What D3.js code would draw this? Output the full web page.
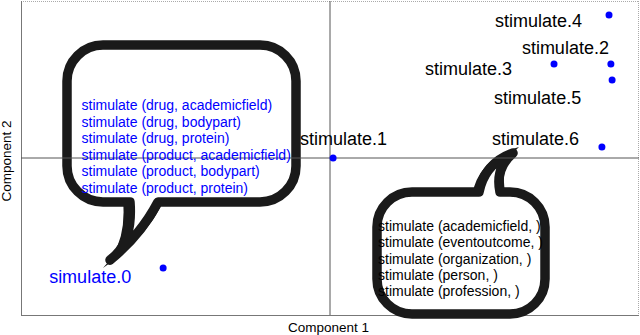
<!DOCTYPE html>
<html>
<head>
<meta charset="utf-8">
<script src="https://cdn.jsdelivr.net/npm/d3@7/dist/d3.min.js"></script>
<style>
  html, body { margin: 0; padding: 0; background: #fff; }
  svg { display: block; font-family: "Liberation Sans", Arial, sans-serif; }
</style>
</head>
<body>
<svg id="chart" width="640" height="335"></svg>
<script>
// ---- data ----
const pointNames = ["simulate.0", "stimulate.1", "stimulate.2", "stimulate.3", "stimulate.4", "stimulate.5", "stimulate.6"];
const comp1 = [-0.540, 0.010, 0.909, 0.725, 0.903, 0.913, 0.880];
const comp2 = [-0.701, 0.000, 0.599, 0.599, 0.911, 0.497, 0.070];
const labelColors = ["#0000ff", "#000", "#000", "#000", "#000", "#000", "#000"];
const bubbleLeftLines = [
  "stimulate (drug, academicfield)",
  "stimulate (drug, bodypart)",
  "stimulate (drug, protein)",
  "stimulate (product, academicfield)",
  "stimulate (product, bodypart)",
  "stimulate (product, protein)"
];
const bubbleRightLines = [
  "stimulate (academicfield, )",
  "stimulate (eventoutcome, )",
  "stimulate (organization, )",
  "stimulate (person, )",
  "stimulate (profession, )"
];
const xTitle = "Component 1";
const yTitle = "Component 2";

// ---- layout ----
const plot = { left: 21, right: 639, top: 1, bottom: 315 };
const labelOffsets = [[-114, 15], [-33, -13], [-89, -10], [-129, 11], [-114, 12], [-118, 24], [-110, -2]];

const svg = d3.select("#chart");
const x = d3.scaleLinear().domain([-1, 1]).range([plot.left, plot.right]);
const y = d3.scaleLinear().domain([-1, 1]).range([plot.bottom, plot.top]);

// frame
svg.append("line").attr("x1", plot.left).attr("x2", plot.right).attr("y1", plot.top + 0.5).attr("y2", plot.top + 0.5)
  .attr("stroke", "#aaa").attr("stroke-dasharray", "1,1");
svg.append("line").attr("x1", plot.right - 0.5).attr("x2", plot.right - 0.5).attr("y1", plot.top).attr("y2", plot.bottom)
  .attr("stroke", "#aaa").attr("stroke-dasharray", "1,1");
svg.append("line").attr("x1", plot.left + 0.5).attr("x2", plot.left + 0.5).attr("y1", plot.top).attr("y2", plot.bottom)
  .attr("stroke", "#777");
svg.append("line").attr("x1", plot.left).attr("x2", plot.right).attr("y1", plot.bottom + 0.5).attr("y2", plot.bottom + 0.5)
  .attr("stroke", "#777");

// speech bubbles (annotation shapes)
function bubblePath(b) {
  const { x0, x1, y0, y1, r } = b;
  let p = `M${x0 + r},${y0}`;
  if (b.tailSide === "top") {
    const t = b.tail;
    p += `H${t.a[0]}Q${t.c1[0]},${t.c1[1]} ${t.tip[0]},${t.tip[1]}Q${t.c2[0]},${t.c2[1]} ${t.b[0]},${t.b[1]}`;
  }
  p += `H${x1 - r}A${r},${r} 0 0 1 ${x1},${y0 + r}V${y1 - r}A${r},${r} 0 0 1 ${x1 - r},${y1}`;
  if (b.tailSide === "bottom") {
    const t = b.tail;
    p += `H${t.a[0]}Q${t.c1[0]},${t.c1[1]} ${t.tip[0]},${t.tip[1]}Q${t.c2[0]},${t.c2[1]} ${t.b[0]},${t.b[1]}`;
  }
  p += `H${x0 + r}A${r},${r} 0 0 1 ${x0},${y1 - r}V${y0 + r}A${r},${r} 0 0 1 ${x0 + r},${y0}Z`;
  return p;
}
function silhouettePath(s) {
  return `M${s.a[0]},${s.a[1]}Q${s.c1[0]},${s.c1[1]} ${s.tip[0]},${s.tip[1]}Q${s.c2[0]},${s.c2[1]} ${s.b[0]},${s.b[1]}Z`;
}
const bubbles = [
  { x0: 67, x1: 296, y0: 45, y1: 202, r: 36, tailSide: "bottom",
    tail: { a: [158, 202], c1: [140, 236], tip: [110, 260], c2: [133, 244], b: [130, 202] },
    sil: { a: [123, 200], c1: [127, 244], tip: [103, 268], c2: [147, 238], b: [164, 200] } },
  { x0: 377, x1: 545, y0: 192, y1: 314, r: 35, tailSide: "top",
    tail: { a: [479, 192], c1: [485, 163], tip: [513, 153], c2: [495, 168], b: [500, 192] },
    sil: { a: [472, 195], c1: [479, 158], tip: [519, 147], c2: [498, 166], b: [506, 195] } }
];
svg.selectAll("path.sil").data(bubbles).join("path")
  .attr("class", "sil")
  .attr("d", d => silhouettePath(d.sil))
  .attr("fill", "#1a1a1a");
svg.selectAll("path.bubble").data(bubbles).join("path")
  .attr("class", "bubble")
  .attr("d", bubblePath)
  .attr("fill", "#fff")
  .attr("stroke", "#1a1a1a")
  .attr("stroke-width", 9.5)
  .attr("stroke-linejoin", "round");

// zero lines
svg.append("line").attr("x1", x(0)).attr("x2", x(0)).attr("y1", plot.top).attr("y2", plot.bottom)
  .attr("stroke", "#555").attr("stroke-width", 1);
svg.append("line").attr("x1", plot.left).attr("x2", plot.right).attr("y1", y(0)).attr("y2", y(0))
  .attr("stroke", "#555").attr("stroke-width", 1);

// points
const pts = pointNames.map((n, i) => ({ name: n, cx: comp1[i], cy: comp2[i], color: labelColors[i], off: labelOffsets[i] }));
svg.selectAll("circle.pt").data(pts).join("circle")
  .attr("class", "pt")
  .attr("cx", d => x(d.cx)).attr("cy", d => y(d.cy)).attr("r", 3.5)
  .attr("fill", "#0000ff");

// point labels
svg.selectAll("text.lbl").data(pts).join("text")
  .attr("class", "lbl")
  .attr("x", d => x(d.cx) + d.off[0]).attr("y", d => y(d.cy) + d.off[1])
  .attr("font-size", 18).attr("fill", d => d.color)
  .text(d => d.name);

// bubble texts
svg.selectAll("text.bl").data(bubbleLeftLines).join("text")
  .attr("class", "bl")
  .attr("x", 81.5).attr("y", (d, i) => 110 + i * 16.6)
  .attr("font-size", 14).attr("fill", "#0000ff")
  .text(d => d);
svg.selectAll("text.br").data(bubbleRightLines).join("text")
  .attr("class", "br")
  .attr("x", 378).attr("y", (d, i) => 231 + i * 16.25)
  .attr("font-size", 14).attr("fill", "#000")
  .text(d => d);

// axis titles
svg.append("text").attr("x", 328.5).attr("y", 332).attr("text-anchor", "middle")
  .attr("font-size", 13.5).attr("fill", "#000").text(xTitle);
svg.append("text").attr("transform", "translate(11,161) rotate(-90)").attr("text-anchor", "middle")
  .attr("font-size", 13.5).attr("fill", "#000").text(yTitle);
</script>
</body>
</html>
